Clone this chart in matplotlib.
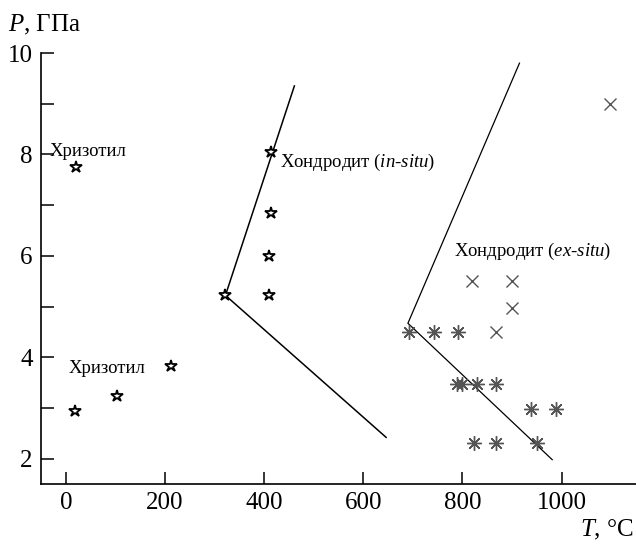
import matplotlib
matplotlib.use("Agg")
import matplotlib.pyplot as plt
from matplotlib.ticker import MultipleLocator

plt.rcParams["font.family"] = ["Liberation Serif", "DejaVu Serif"]
plt.rcParams["mathtext.fontset"] = "custom"
plt.rcParams["mathtext.rm"] = "Liberation Serif"
plt.rcParams["mathtext.it"] = "Liberation Serif:italic"

# Chrysotile experiments (stars)
chr_T = [20, 18, 103, 212]
chr_P = [7.76, 2.93, 3.23, 3.82]

# Chondrodite in-situ experiments (stars)
ins_T = [413, 413, 410, 410, 322]
ins_P = [8.04, 6.84, 5.99, 5.23, 5.23]

# Chondrodite ex-situ: decomposition (asterisks)
dec_T = [692, 742, 791, 789, 799, 829, 868, 939, 988, 823, 868, 951]
dec_P = [4.5, 4.5, 4.5, 3.48, 3.48, 3.48, 3.48, 2.98, 2.98, 2.30, 2.30, 2.30]

# Chondrodite ex-situ: stable (crosses)
stb_T = [1098, 819, 899, 899, 868]
stb_P = [9.0, 5.5, 5.5, 4.97, 4.5]

# Reaction boundaries
line_in_T = [461, 322, 646]
line_in_P = [9.35, 5.22, 2.42]
line_ex_T = [915, 690, 981]
line_ex_P = [9.8, 4.67, 1.98]

fig = plt.figure(figsize=(6.36, 5.44), dpi=100)
ax = fig.add_axes([41 / 636, (544 - 484) / 544, 595 / 636, (484 - 53) / 544])

ax.plot(line_in_T, line_in_P, color="black", lw=1.1)
ax.plot(line_ex_T, line_ex_P, color="black", lw=0.9)

ax.plot(chr_T, chr_P, ls="none", marker="*", ms=9, mfc="white", mec="black", mew=1.3)
ax.plot(ins_T, ins_P, ls="none", marker="*", ms=9, mfc="white", mec="black", mew=1.3)
ax.plot(dec_T, dec_P, ls="none", marker=(8, 2, 0), ms=10.5, mec="#555555", mew=1.0)
ax.plot(stb_T, stb_P, ls="none", marker="x", ms=9, mec="#555555", mew=1.0)

lab_fs = 13.5
ax.text(-32, 8.06, "Хризотил", fontsize=lab_fs, va="center", ha="left")
ax.text(6, 3.77, "Хризотил", fontsize=lab_fs, va="center", ha="left")
ax.text(433, 7.85, r"Хондродит ($\mathit{in}$-$\mathit{situ}$)", fontsize=lab_fs,
        va="center", ha="left")
ax.text(783, 6.08, r"Хондродит ($\mathit{ex}$-$\mathit{situ}$)", fontsize=lab_fs,
        va="center", ha="left")

ax.set_xlim(-50, 1150)
ax.set_ylim(1.5, 10)
ax.yaxis.set_major_locator(MultipleLocator(2))
ax.yaxis.set_minor_locator(MultipleLocator(1))
ax.set_xticks([0, 200, 400, 600, 800, 1000])

for s in ["top", "right"]:
    ax.spines[s].set_visible(False)
for s in ["left", "bottom"]:
    ax.spines[s].set_linewidth(1.2)

ax.tick_params(axis="both", which="both", direction="in", length=9, width=1.1,
               labelsize=18, pad=6)

fig.text(8 / 636, 1 - 25 / 544, r"$\mathit{P}$, ГПа", fontsize=18, va="center", ha="left")
fig.text(634 / 636, 1 - 530 / 544, r"$\mathit{T}$, °C", fontsize=18, va="center", ha="right")

fig.savefig("out.png", dpi=100)
